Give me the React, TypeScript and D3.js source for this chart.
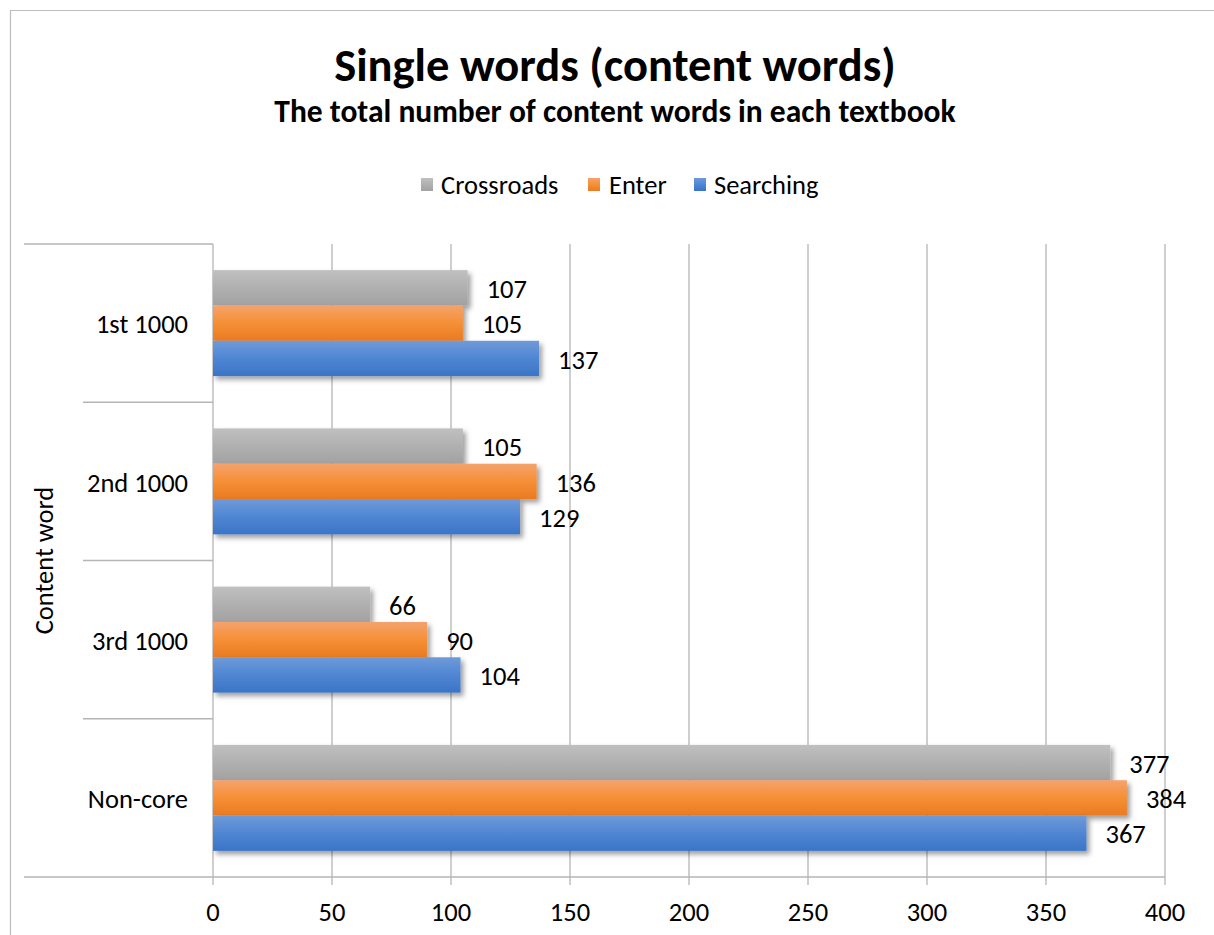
import React from "react";
import * as d3 from "d3";

const categories = ["1st 1000", "2nd 1000", "3rd 1000", "Non-core"];
const seriesNames = ["Crossroads", "Enter", "Searching"];
const crossroads = [107, 105, 66, 377];
const enter = [105, 136, 90, 384];
const searching = [137, 129, 104, 367];
const xTicks = [0, 50, 100, 150, 200, 250, 300, 350, 400];
const title = "Single words (content words)";
const subtitle = "The total number of content words in each textbook";
const axisTitle = "Content word";

const W = 1214;
const H = 935;
const FONT = "Carlito, Calibri, Lato, 'Open Sans', sans-serif";
const LABEL = 26.5;

const gradients = [
  { id: "gGray", top: "#c0c0c0", mid: "#b0b0b0", bottom: "#a2a2a2" },
  { id: "gOrange", top: "#f4a36d", mid: "#f68f35", bottom: "#e97b22" },
  { id: "gBlue", top: "#6f9ad9", mid: "#4f86d3", bottom: "#3b74c6" },
];

export default function App() {
  const left = 213, right = 1165, top = 244, bottom = 877;
  const x = d3.scaleLinear().domain([0, 400]).range([left, right]);
  const y = d3.scaleBand().domain(categories).range([top, bottom]).padding(0);
  const yInner = d3
    .scaleBand()
    .domain(seriesNames)
    .range([0, y.bandwidth()])
    .paddingInner(0)
    .paddingOuter(0.74);
  const seriesValues = [crossroads, enter, searching];
  const boundaries = [top, ...categories.map((c) => (y(c) as number) + y.bandwidth())];

  const legendItems = [
    { name: seriesNames[0], sx: 421, tx: 441, g: gradients[0] },
    { name: seriesNames[1], sx: 588, tx: 609, g: gradients[1] },
    { name: seriesNames[2], sx: 694, tx: 714, g: gradients[2] },
  ];

  return (
    <svg
      width={W}
      height={H}
      style={{ position: "absolute", left: 0, top: 0, background: "#fff" }}
      fontFamily={FONT}
    >
      <defs>
        {gradients.map((g) => (
          <linearGradient key={g.id} id={g.id} x1="0" y1="0" x2="0" y2="1">
            <stop offset="0%" stopColor={g.top} />
            <stop offset="50%" stopColor={g.mid} />
            <stop offset="100%" stopColor={g.bottom} />
          </linearGradient>
        ))}
        <filter id="shadow" x="-5%" y="-20%" width="115%" height="160%">
          <feDropShadow dx="3" dy="3.5" stdDeviation="2.4" floodColor="#000" floodOpacity="0.38" />
        </filter>
      </defs>
      <rect x={0} y={0} width={W} height={H} fill="#fff" />
      {/* chart border */}
      <path d={`M10.5,${H} V10.5 H${W}`} fill="none" stroke="#bcbcbc" strokeWidth={1.2} />

      <text x={615} y={81} textAnchor="middle" fontSize={46.5} fontWeight="bold" fill="#000">
        {title}
      </text>
      <text x={615} y={122} textAnchor="middle" fontSize={31.5} fontWeight="bold" fill="#000">
        {subtitle}
      </text>

      {legendItems.map((it) => (
        <g key={it.name}>
          <rect x={it.sx} y={178} width={12} height={13} fill={`url(#${it.g.id})`} />
          <text x={it.tx} y={194} fontSize={LABEL} fill="#000">
            {it.name}
          </text>
        </g>
      ))}

      {/* vertical gridlines */}
      {xTicks.map((t) => (
        <line
          key={t}
          x1={x(t)}
          x2={x(t)}
          y1={top}
          y2={bottom + 8}
          stroke="#b5b5b5"
          strokeWidth={1.3}
        />
      ))}

      {/* category boundaries */}
      {boundaries.map((b, i) => (
        <line
          key={i}
          x1={i === 0 || i === boundaries.length - 1 ? 24 : 83}
          x2={left}
          y1={b}
          y2={b}
          stroke="#b5b5b5"
          strokeWidth={1.3}
        />
      ))}
      <line x1={left} x2={right} y1={bottom} y2={bottom} stroke="#b5b5b5" strokeWidth={1.3} />

      {/* bars */}
      {categories.map((c, ci) =>
        seriesNames.map((s, si) => {
          const v = seriesValues[si][ci];
          const by = (y(c) as number) + (yInner(s) as number);
          return (
            <rect
              key={c + s}
              x={x(0)}
              y={by}
              width={x(v) - x(0)}
              height={yInner.bandwidth()}
              fill={`url(#${gradients[si].id})`}
              filter="url(#shadow)"
            />
          );
        })
      )}

      {/* value labels */}
      {categories.map((c, ci) =>
        seriesNames.map((s, si) => {
          const v = seriesValues[si][ci];
          const by = (y(c) as number) + (yInner(s) as number) + yInner.bandwidth() / 2;
          return (
            <text
              key={"l" + c + s}
              x={x(v) + 19}
              y={by + 1}
              dy="0.35em"
              fontSize={LABEL}
              fill="#000"
            >
              {v}
            </text>
          );
        })
      )}

      {/* category labels */}
      {categories.map((c) => (
        <text
          key={"c" + c}
          x={188}
          y={(y(c) as number) + y.bandwidth() / 2 + 1}
          dy="0.35em"
          textAnchor="end"
          fontSize={LABEL}
          fill="#000"
        >
          {c}
        </text>
      ))}

      <text
        transform={`translate(44,${(top + bottom) / 2}) rotate(-90)`}
        textAnchor="middle"
        dy="0.35em"
        fontSize={LABEL}
        fill="#000"
      >
        {axisTitle}
      </text>

      {/* x tick labels */}
      {xTicks.map((t) => (
        <text key={"t" + t} x={x(t)} y={912} dy="0.35em" textAnchor="middle" fontSize={LABEL} fill="#000">
          {t}
        </text>
      ))}
    </svg>
  );
}
